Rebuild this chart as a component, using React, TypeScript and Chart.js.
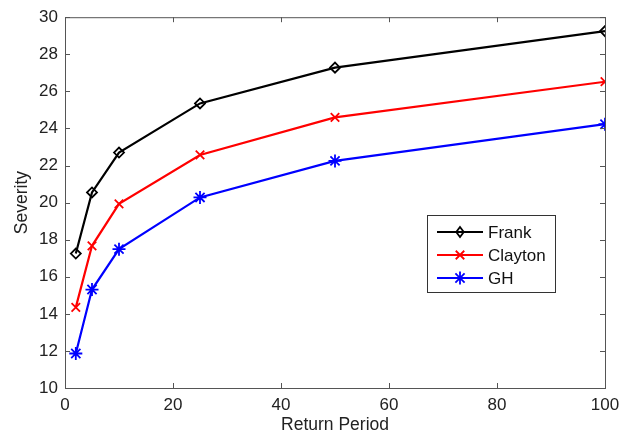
import React, { useEffect, useRef } from "react";
import { Chart, registerables } from "chart.js";

Chart.register(...registerables);

const returnPeriods = [2, 5, 10, 25, 50, 100];
const frank = [17.25, 20.55, 22.7, 25.35, 27.28, 29.25];
const clayton = [14.35, 17.67, 19.93, 22.57, 24.6, 26.52];
const gh = [11.86, 15.31, 17.49, 20.28, 22.25, 24.23];
const xTicks = [0, 20, 40, 60, 80, 100];
const yTicks = [10, 12, 14, 16, 18, 20, 22, 24, 26, 28, 30];

const FONT = "'Liberation Sans', Arial, Helvetica, sans-serif";
const AXIS_COLOR = "#555";

function drawPt(ctx: CanvasRenderingContext2D, style: string, r: number, x: number, y: number) {
  ctx.beginPath();
  if (style === "rectRot") {
    ctx.moveTo(x, y - r);
    ctx.lineTo(x + r * 0.75, y);
    ctx.lineTo(x, y + r);
    ctx.lineTo(x - r * 0.75, y);
    ctx.closePath();
    ctx.fill();
    ctx.stroke();
    return;
  }
  if (style === "crossRot" || style === "star") {
    const d = r * Math.SQRT1_2;
    ctx.moveTo(x - d, y - d);
    ctx.lineTo(x + d, y + d);
    ctx.moveTo(x - d, y + d);
    ctx.lineTo(x + d, y - d);
  }
  if (style === "star") {
    ctx.moveTo(x, y - r);
    ctx.lineTo(x, y + r);
    ctx.moveTo(x - r, y);
    ctx.lineTo(x + r, y);
  }
  ctx.stroke();
}

const boxPlugin = {
  id: "matlabBox",
  afterDraw(chart: any) {
    const { ctx, chartArea, scales } = chart;
    const { left, right, top, bottom } = chartArea;
    ctx.save();
    ctx.strokeStyle = AXIS_COLOR;
    ctx.lineWidth = 1;
    ctx.strokeRect(left + 0.5, top + 0.5, right - left, bottom - top);
    const tl = 5;
    ctx.beginPath();
    for (const v of xTicks) {
      const px = Math.round(scales.x.getPixelForValue(v)) + 0.5;
      ctx.moveTo(px, bottom);
      ctx.lineTo(px, bottom - tl);
      ctx.moveTo(px, top);
      ctx.lineTo(px, top + tl);
    }
    for (const v of yTicks) {
      const py = Math.round(scales.y.getPixelForValue(v)) + 0.5;
      ctx.moveTo(left, py);
      ctx.lineTo(left + tl, py);
      ctx.moveTo(right, py);
      ctx.lineTo(right - tl, py);
    }
    ctx.stroke();

    // legend
    const lx = 427, ly = 215, lw = 128, lh = 77;
    ctx.fillStyle = "#fff";
    ctx.fillRect(lx, ly, lw, lh);
    ctx.strokeStyle = "#333";
    ctx.strokeRect(lx + 0.5, ly + 0.5, lw, lh);
    chart.data.datasets.forEach((ds: any, i: number) => {
      const y = ly + 17 + i * 23;
      ctx.strokeStyle = ds.borderColor;
      ctx.lineWidth = 2;
      ctx.beginPath();
      ctx.moveTo(lx + 10, y);
      ctx.lineTo(lx + 56, y);
      ctx.stroke();
      ctx.lineWidth = ds.pointBorderWidth;
      ctx.fillStyle = ds.pointBackgroundColor;
      drawPt(ctx, ds.pointStyle, ds.pointRadius, lx + 33, y);
      ctx.fillStyle = "#111";
      ctx.font = `17px ${FONT}`;
      ctx.textBaseline = "middle";
      ctx.textAlign = "left";
      ctx.fillText(ds.label, lx + 61, y + 1);
    });
    ctx.restore();
  },
};

export default function App() {
  const ref = useRef<HTMLCanvasElement>(null);
  useEffect(() => {
    document.body.style.margin = "0";
    const mk = (label: string, data: number[], color: string, style: string, r: number, bg: string) => ({
      label,
      data: data.map((v, i) => ({ x: returnPeriods[i], y: v })),
      borderColor: color,
      backgroundColor: color,
      borderWidth: 2.2,
      pointStyle: style,
      pointRadius: r,
      pointHoverRadius: r,
      pointBorderColor: color,
      pointBackgroundColor: bg,
      pointBorderWidth: 1.8,
      tension: 0,
    });
    const chart = new Chart(ref.current!, {
      type: "line",
      data: {
        datasets: [
          mk("Frank", frank, "#000000", "rectRot", 5, "rgba(255,255,255,0)"),
          mk("Clayton", clayton, "#ff0000", "crossRot", 6, "#ff0000"),
          mk("GH", gh, "#0000ff", "star", 6.5, "#0000ff"),
        ],
      },
      options: {
        animation: false,
        responsive: false,
        layout: { padding: { top: 15, right: 26, left: 12, bottom: 0 } },
        plugins: { legend: { display: false }, tooltip: { enabled: false } },
        scales: {
          x: {
            type: "linear",
            min: 0,
            max: 100,
            afterBuildTicks: (s: any) => { s.ticks = xTicks.map((v) => ({ value: v })); },
            afterFit: (s: any) => { s.height = 51; },
            grid: { display: false, drawTicks: false },
            border: { display: false },
            ticks: { color: "#222", font: { size: 17, family: FONT }, padding: 7, maxRotation: 0 },
            title: { display: true, text: "Return Period", color: "#222", font: { size: 17.5, family: FONT }, padding: { top: 0, bottom: 3 } },
          },
          y: {
            type: "linear",
            min: 10,
            max: 30,
            afterBuildTicks: (s: any) => { s.ticks = yTicks.map((v) => ({ value: v })); },
            afterFit: (s: any) => { s.width = 53; },
            grid: { display: false, drawTicks: false },
            border: { display: false },
            ticks: { color: "#222", font: { size: 17, family: FONT }, padding: 7 },
            title: { display: true, text: "Severity", color: "#222", font: { size: 17.5, family: FONT }, padding: { top: 0, bottom: 4 } },
          },
        },
      },
      plugins: [boxPlugin],
    } as any);
    return () => chart.destroy();
  }, []);
  return <canvas ref={ref} width={631} height={439} style={{ display: "block" }} />;
}
